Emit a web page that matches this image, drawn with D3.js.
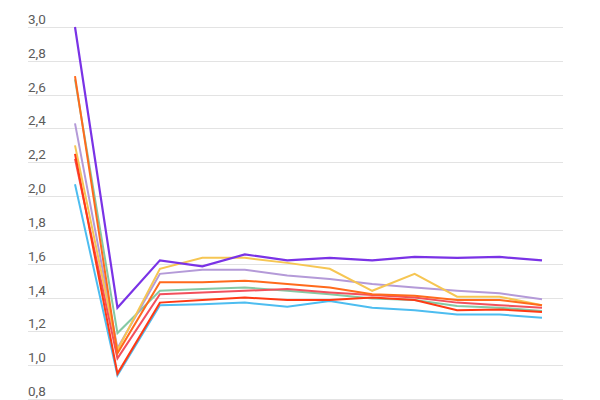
<!DOCTYPE html>
<html>
<head>
<meta charset="utf-8">
<script src="https://cdn.jsdelivr.net/npm/d3@7"></script>
<style>
  body { margin: 0; background: #fff; }
  .tick-label { font-family: Roboto, "Noto Sans", sans-serif; font-size: 13.5px; fill: #5c5c5c; }
</style>
</head>
<body>
<svg id="chart" width="600" height="400"></svg>
<script>
// one entry per point along the x axis
var steps = [0, 1, 2, 3, 4, 5, 6, 7, 8, 9, 10, 11];

var yTicks = [0.8, 1.0, 1.2, 1.4, 1.6, 1.8, 2.0, 2.2, 2.4, 2.6, 2.8, 3.0];

var cyan      = [2.07, 0.94, 1.355, 1.36, 1.37, 1.345, 1.38, 1.34, 1.325, 1.30, 1.30, 1.28];
var green     = [2.69, 1.19, 1.44, 1.45, 1.46, 1.44, 1.42, 1.395, 1.385, 1.35, 1.34, 1.32];
var lavender  = [2.43, 1.10, 1.54, 1.565, 1.565, 1.53, 1.51, 1.48, 1.46, 1.44, 1.425, 1.39];
var yellow    = [2.30, 1.09, 1.57, 1.635, 1.635, 1.605, 1.57, 1.44, 1.54, 1.405, 1.405, 1.355];
var pink      = [2.22, 1.04, 1.42, 1.43, 1.44, 1.45, 1.43, 1.415, 1.40, 1.37, 1.355, 1.34];
var orange    = [2.71, 1.07, 1.49, 1.49, 1.50, 1.48, 1.46, 1.42, 1.41, 1.385, 1.385, 1.355];
var redOrange = [2.25, 0.95, 1.37, 1.385, 1.40, 1.385, 1.385, 1.40, 1.385, 1.325, 1.33, 1.315];
var purple    = [3.00, 1.34, 1.62, 1.585, 1.655, 1.62, 1.635, 1.62, 1.64, 1.635, 1.64, 1.62];

var seriesList = [
    {values: cyan, color: "#4dbdf0", w: 2},
    {values: green, color: "#85c9a4", w: 2},
    {values: lavender, color: "#b49ad8", w: 2},
    {values: yellow, color: "#f6c653", w: 2},
    {values: pink, color: "#f2505c", w: 2},
    {values: orange, color: "#ff6a1c", w: 2},
    {values: redOrange, color: "#ff3a14", w: 2},
    {values: purple, color: "#7a33e6", w: 2.2}
];

var svg = d3.select("#chart");

var x = d3.scalePoint().domain(steps).range([75, 542]);
var y = d3.scaleLinear().domain([0.8, 3.0]).range([399, 27]);

// grid + labels (labels sit just above each line)
var grid = svg.append("g").attr("class", "grid");
grid.selectAll("line")
    .data(yTicks)
    .enter().append("line")
    .attr("x1", 28)
    .attr("x2", 563)
    .attr("y1", function (d) { return Math.round(y(d)) + 0.5; })
    .attr("y2", function (d) { return Math.round(y(d)) + 0.5; })
    .style("stroke", "#e3e3e3")
    .style("stroke-width", 1);

grid.selectAll("text")
    .data(yTicks)
    .enter().append("text")
    .attr("class", "tick-label")
    .attr("x", 28)
    .attr("y", function (d) { return y(d) - 3; })
    .text(function (d) { return d.toFixed(1).replace(".", ","); });

var line = d3.line()
    .x(function (d, i) { return x(steps[i]); })
    .y(function (d) { return y(d); });

svg.append("g")
    .attr("class", "lines")
    .selectAll("path")
    .data(seriesList)
    .enter().append("path")
    .attr("d", function (d) { return line(d.values); })
    .style("fill", "none")
    .style("stroke", function (d) { return d.color; })
    .style("stroke-width", function (d) { return d.w; })
    .style("stroke-linejoin", "miter");
</script>
</body>
</html>
